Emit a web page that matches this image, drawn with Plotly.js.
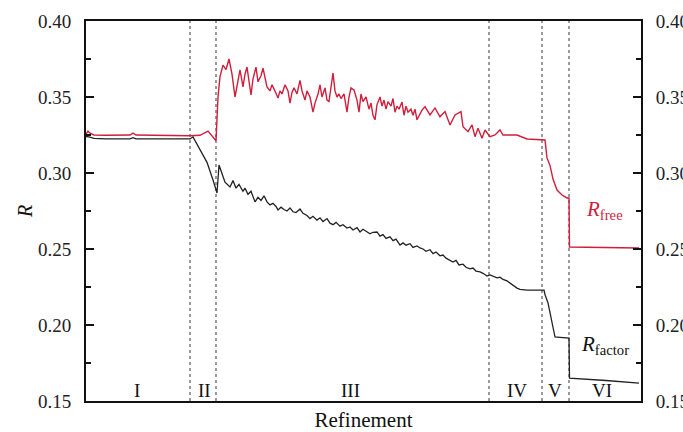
<!DOCTYPE html>
<html>
<head>
<meta charset="utf-8">
<script src="https://cdn.plot.ly/plotly-3.0.1.min.js"></script>
<style>
html,body{margin:0;padding:0;background:#fff;}
#chart{width:683px;height:432px;}
</style>
</head>
<body>
<div id="chart"></div>
<script>
// Refinement step (arbitrary units along the x axis)
const rfreeStep = [0,2,4,8,20,44,47,50,104,114,122,130,132,134,137,140,143,146,149,152,154,157,159,161,163,165,167,170,172,175,177,179,181,184,186,189,192,194,196,199,202,204,206,208,211,214,216,219,221,224,227,229,232,234,236,239,241,243,245,247,249,251,253,255,258,261,263,265,268,271,273,275,277,280,283,285,287,289,291,294,296,298,300,302,305,307,309,311,313,316,318,320,322,325,327,329,331,334,336,339,344,349,354,359,364,369,375,377,382,386,389,392,396,399,404,409,414,417,431,441,458,459,461,464,467,471,476,481,483,483.5,553];
const rfreeVal = [0.3255,0.3275,0.3262,0.3250,0.3248,0.3250,0.3262,0.3250,0.3245,0.3248,0.3276,0.3212,0.3500,0.3634,0.3710,0.3680,0.3750,0.3650,0.3500,0.3610,0.3678,0.3566,0.3650,0.3697,0.3600,0.3513,0.3620,0.3697,0.3600,0.3640,0.3690,0.3620,0.3566,0.3540,0.3580,0.3540,0.3493,0.3540,0.3520,0.3580,0.3540,0.3460,0.3530,0.3560,0.3520,0.3610,0.3540,0.3480,0.3540,0.3500,0.3400,0.3460,0.3520,0.3580,0.3500,0.3560,0.3480,0.3470,0.3560,0.3658,0.3540,0.3500,0.3520,0.3490,0.3520,0.3400,0.3500,0.3560,0.3546,0.3480,0.3400,0.3520,0.3470,0.3500,0.3420,0.3460,0.3380,0.3350,0.3450,0.3500,0.3440,0.3480,0.3420,0.3470,0.3440,0.3490,0.3400,0.3440,0.3420,0.3467,0.3380,0.3440,0.3400,0.3420,0.3380,0.3420,0.3350,0.3390,0.3414,0.3436,0.3382,0.3428,0.3370,0.3404,0.3316,0.3382,0.3404,0.3305,0.3272,0.3316,0.3239,0.3294,0.3228,0.3283,0.3239,0.3250,0.3283,0.3250,0.3250,0.3224,0.3222,0.3217,0.3099,0.3050,0.2960,0.2888,0.2855,0.2836,0.2836,0.2513,0.2507];

const rfacStep = [0,3,8,20,44,47,50,104,107,114,121,127,131,133,136,139,144,147,150,153,157,159,162,165,169,172,175,178,181,184,187,190,192,195,198,201,204,207,210,214,217,221,224,227,231,234,237,241,244,247,250,254,257,261,264,267,271,274,277,281,284,287,291,294,297,300,304,307,310,314,317,320,324,327,331,334,337,340,344,347,350,354,357,360,364,367,370,373,377,380,384,387,390,394,397,401,404,407,411,414,417,421,424,427,431,434,441,458,459,462,465,469,474,481,483,483.5,500,520,553];
const rfacVal = [0.3240,0.3238,0.3228,0.3224,0.3224,0.3232,0.3224,0.3224,0.3237,0.3150,0.3070,0.2954,0.2868,0.3053,0.2990,0.2940,0.2908,0.2950,0.2900,0.2925,0.2880,0.2900,0.2860,0.2880,0.2810,0.2840,0.2820,0.2850,0.2810,0.2790,0.2800,0.2780,0.2757,0.2775,0.2760,0.2750,0.2770,0.2745,0.2740,0.2763,0.2735,0.2720,0.2700,0.2715,0.2690,0.2705,0.2680,0.2700,0.2670,0.2660,0.2675,0.2650,0.2660,0.2638,0.2645,0.2625,0.2640,0.2612,0.2630,0.2615,0.2600,0.2610,0.2612,0.2585,0.2595,0.2570,0.2580,0.2555,0.2565,0.2526,0.2540,0.2525,0.2535,0.2510,0.2520,0.2507,0.2500,0.2485,0.2495,0.2470,0.2480,0.2455,0.2460,0.2440,0.2428,0.2414,0.2425,0.2395,0.2400,0.2380,0.2370,0.2375,0.2355,0.2350,0.2340,0.2322,0.2330,0.2320,0.2310,0.2315,0.2300,0.2290,0.2275,0.2260,0.2243,0.2235,0.2230,0.2230,0.2200,0.2145,0.2050,0.1921,0.1918,0.1914,0.1914,0.1651,0.1645,0.1635,0.1618];

// Stage boundaries and stage labels
const stageBounds = [104,130,403,456,483];
const stageNames = ['I','II','III','IV','V','VI'];
const stageLabelPos = [51,118,264,431,469,516];

const serif = 'Liberation Serif';
const red = '#cf1f3c';

const traces = [
  {x: rfreeStep, y: rfreeVal, mode: 'lines', line: {color: red, width: 1.4}, hoverinfo: 'skip', showlegend: false},
  {x: rfacStep, y: rfacVal, mode: 'lines', line: {color: '#222', width: 1.3}, yaxis: 'y2', hoverinfo: 'skip', showlegend: false}
];

const shapes = stageBounds.map(b => ({
  type: 'line', xref: 'x', yref: 'paper', x0: b, x1: b, y0: 0, y1: 1,
  line: {color: '#666', width: 1.3, dash: 'dot'}, layer: 'below'
}));

const annotations = stageNames.map((n, i) => ({
  x: stageLabelPos[i], y: 0.1566, xref: 'x', yref: 'y', text: n, showarrow: false,
  font: {family: serif, size: 19, color: '#111'}
}));
annotations.push({x: 518, y: 0.2757, xref: 'x', yref: 'y', text: '<i>R</i><sub>free</sub>', showarrow: false,
  font: {family: serif, size: 21, color: red}});
annotations.push({x: 519, y: 0.1868, xref: 'x', yref: 'y', text: '<i>R</i><sub>factor</sub>', showarrow: false,
  font: {family: serif, size: 21, color: '#111'}});

const yCommon = {
  range: [0.15, 0.40], dtick: 0.05, tickformat: '.2f',
  ticks: 'inside', ticklen: 8, tickwidth: 2, tickcolor: '#111',
  minor: {ticks: 'inside', ticklen: 5, tickwidth: 2, dtick: 0.025, tickcolor: '#111', showgrid: false},
  showline: true, linewidth: 2, linecolor: '#111', showgrid: false, zeroline: false,
  tickfont: {family: serif, size: 19, color: '#222'}, ticklabelstandoff: 9
};

const layout = {
  width: 683, height: 432,
  margin: {l: 86, r: 42, t: 21, b: 31},
  paper_bgcolor: '#fff', plot_bgcolor: '#fff',
  font: {family: serif, size: 18},
  xaxis: {range: [0, 555], showline: true, linewidth: 2, linecolor: '#111', mirror: true,
    showticklabels: false, ticks: '', showgrid: false, zeroline: false,
    title: {text: 'Refinement', font: {family: serif, size: 21, color: '#111'}, standoff: 12}},
  yaxis: Object.assign({}, yCommon, {side: 'left',
    title: {text: '<i>R</i>', font: {family: serif, size: 20, color: '#111'}, standoff: 0}}),
  yaxis2: Object.assign({}, yCommon, {side: 'right', overlaying: 'y'}),
  shapes: shapes,
  annotations: annotations
};

Plotly.newPlot('chart', traces, layout, {staticPlot: true});
</script>
</body>
</html>
